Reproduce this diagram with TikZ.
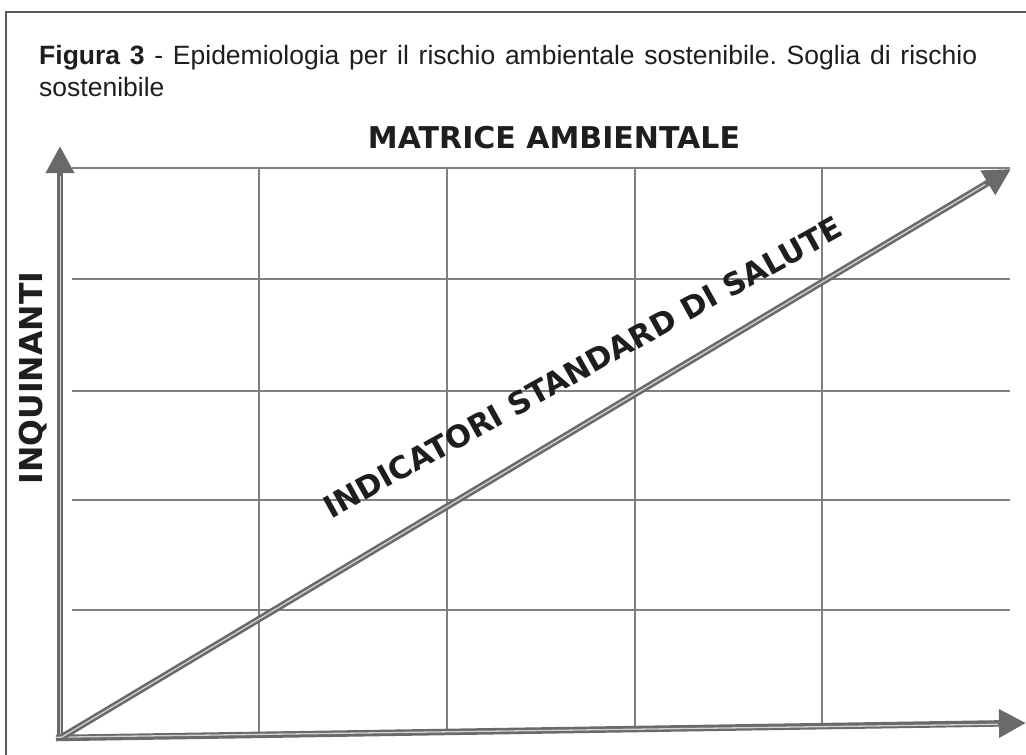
\documentclass[tikz,border=0pt]{standalone}
\usepackage{fontspec}
\setmainfont{Liberation Sans}
\newfontfamily\labfont{DejaVu Sans}
\usetikzlibrary{arrows.meta,calc}
\definecolor{gridgray}{HTML}{808080}
\definecolor{axisgray}{HTML}{6A6A6A}
\definecolor{axislight}{HTML}{D2D2D2}
\definecolor{framegray}{HTML}{5A5A5A}
\definecolor{textdark}{HTML}{1E1E1E}
\frenchspacing
\begin{document}
\begin{tikzpicture}[x=1pt,y=-1pt,
  gridline/.style={draw=gridgray, line width=1.6pt},
  axisline/.style={draw=axisgray, line width=6.5pt, -{Triangle[length=27pt,width=27pt]}},
  axisin/.style={draw=axislight, line width=1.3pt},
  lab/.style={font=\labfont\bfseries\fontsize{30}{30}\selectfont, text=textdark, inner sep=0pt},
  captext/.style={font=\fontsize{26.5}{32}\selectfont, text=textdark, inner sep=0pt, anchor=base west}]
\useasboundingbox (0,0) rectangle (1026,755);
\fill[white] (0,0) rectangle (1026,755);
% frame
\draw[framegray, line width=2pt] (6,755) -- (6,12) -- (1026,12);
% caption
\node[captext] (cap1) at (39,64) {\hbox to 938pt{\textbf{Figura 3} - Epidemiologia per il rischio ambientale sostenibile. Soglia di rischio}};
\node[captext] (cap2) at (39,96) {sostenibile};
% grid
\foreach \y in {168,279,391,500,610} \draw[gridline] (72,\y) -- (1010,\y);
\foreach \x in {259,447,635,822} \draw[gridline] (\x,168) -- (\x,{738-(\x-56)*0.01546});
% axes
\coordinate (O) at (60,741);
\coordinate (Ytip) at (60,146);
\coordinate (Xo) at (56,738);
\coordinate (Xtip) at (1026,723);
\coordinate (Do) at (62,737);
\coordinate (Dtip) at (1011,169);
\draw[axisline] (O) -- (Ytip);
\draw[axisin] ([xshift=0.8pt]O) -- ([xshift=0.8pt,yshift=-30pt]Ytip);
\draw[axisline] (Xo) -- (Xtip);
\draw[axisin] ([yshift=0.8pt]Xo) -- ($(Xtip)!28pt!(Xo)+(0,0.8)$);
\draw[axisline] (Do) -- (Dtip);
\draw[axisin] (Do) -- ($(Dtip)!30pt!(Do)$);
% labels
\node[lab, anchor=base] (title) at (554,148) {MATRICE AMBIENTALE};
\node[lab, anchor=base, rotate=90, font=\labfont\bfseries\fontsize{31.5}{31.5}\selectfont] (yl) at (42,378) {INQUINANTI};
\node[lab, anchor=base, rotate=29, font=\labfont\bfseries\fontsize{30.6}{30.6}\selectfont] (dl) at (588,377) {INDICATORI STANDARD DI SALUTE};
\end{tikzpicture}
\end{document}
